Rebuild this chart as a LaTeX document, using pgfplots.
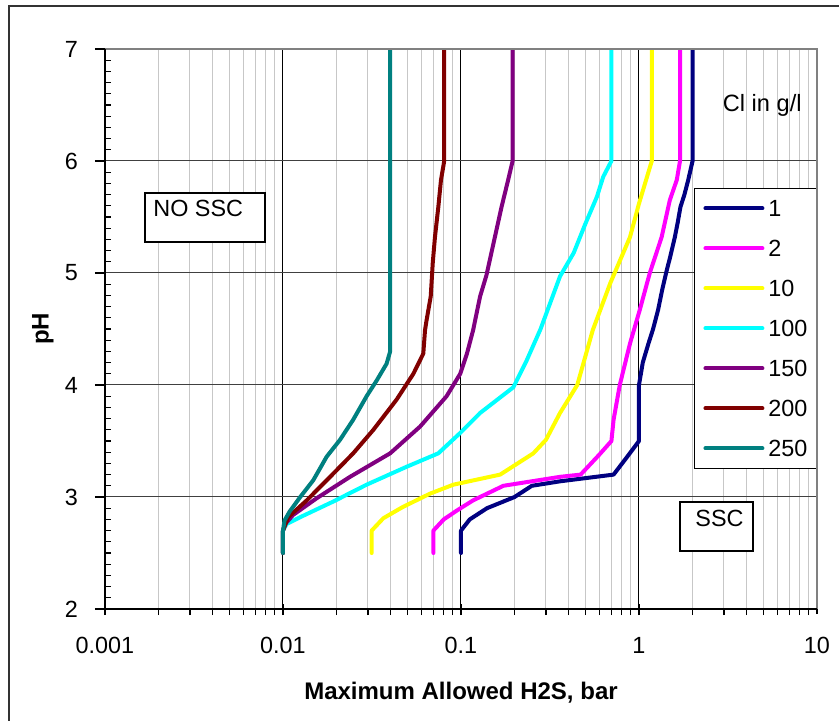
\documentclass[border=0pt]{standalone}
\usepackage{fontspec}
\setmainfont{Liberation Sans}
\usepackage{pgfplots}
\pgfplotsset{compat=1.18}
\definecolor{cNavy}{RGB}{0,0,128}
\definecolor{cMag}{RGB}{255,0,255}
\definecolor{cYel}{RGB}{255,255,0}
\definecolor{cCyan}{RGB}{0,255,255}
\definecolor{cPur}{RGB}{128,0,128}
\definecolor{cDred}{RGB}{128,0,0}
\definecolor{cTeal}{RGB}{0,128,128}
\begin{document}
\begin{tikzpicture}
\path[use as bounding box] (-52.5pt,-56pt) rectangle (367pt,304.5pt);
\draw[black!80, line width=0.6pt] (-48pt,-60pt) -- (-48pt,301.5pt) -- (370pt,301.5pt);
\begin{axis}[
  scale only axis, width=356pt, height=280pt,
  xmode=log, xmin=0.001, xmax=10, ymin=2, ymax=7,
  xtick={0.001,0.01,0.1,1,10}, xticklabels={0.001,0.01,0.1,1,10},
  ytick={2,3,4,5,6,7}, yticklabels={2,3,4,5,6,7},
  minor y tick num=9,
  xmajorgrids, ymajorgrids, xminorgrids,
  major x grid style={black, line width=0.5pt},
  major y grid style={black!75, line width=0.5pt},
  minor x grid style={black!22, line width=0.5pt},
  axis line style={draw=none},
  tick align=inside,
  xtick pos=left, ytick pos=left,
  major tick length=5pt, minor tick length=3pt,
  every tick/.style={black, line width=0.6pt},
  major x tick style={yshift=-2.5pt},
  minor x tick style={yshift=-3pt},
  major y tick style={xshift=-5pt},
  tick label style={font=\fontsize{11.7}{13}\selectfont},
  xticklabel style={anchor=base, yshift=-22pt},
  yticklabel style={anchor=east, xshift=-10pt},
  xlabel={\bfseries Maximum Allowed H2S, bar},
  xlabel style={at={(rel axis cs:0.5,0)}, anchor=base, yshift=-45pt, font=\fontsize{12}{14}\selectfont},
  ylabel={\bfseries pH},
  ylabel style={at={(rel axis cs:-0.0871,0.5)}, anchor=center, font=\fontsize{12}{14}\selectfont},
  legend image code/.code={\draw[#1] (0pt,0pt) -- (28.5pt,0pt);},
  legend cell align=left,
  legend style={at={(1,0.752)}, anchor=north east, draw=black, line width=0.5pt, fill=white,
    font=\fontsize{11.7}{13}\selectfont, row sep=11.6pt, column sep=2pt,
    inner xsep=4.5pt, inner ysep=5.8pt,
    nodes={inner sep=0pt, text height=8.4pt, text depth=0pt}},
  every axis plot/.append style={line width=2pt, line join=round, line cap=round},
]
\addplot[cNavy] coordinates {
(0.1,2.5)(0.1,2.7)(0.112,2.8)(0.14,2.9)(0.2,3.0)(0.25,3.1)(0.36,3.14)(0.72,3.2)(0.85,3.35)(1.0,3.5)
(1.0,4.0)(1.05,4.2)(1.13,4.37)(1.2,4.5)(1.28,4.67)(1.35,4.85)(1.42,5.0)(1.5,5.15)(1.59,5.32)
(1.65,5.45)(1.71,5.59)(1.8,5.7)(1.89,5.83)(2.0,6.0)(2.0,7.0)};
\addlegendentry{1}
\addplot[cMag] coordinates {
(0.07,2.5)(0.07,2.7)(0.08,2.8)(0.095,2.88)(0.117,2.97)(0.173,3.1)(0.36,3.18)(0.47,3.2)(0.6,3.38)
(0.7,3.5)(0.72,3.69)(0.78,4.0)(0.89,4.37)(1.01,4.67)(1.15,5.0)(1.34,5.32)(1.49,5.65)(1.63,5.83)
(1.70,6.0)(1.70,7.0)};
\addlegendentry{2}
\addplot[cYel] coordinates {
(0.0315,2.5)(0.0315,2.7)(0.0366,2.81)(0.047,2.91)(0.067,3.03)(0.0906,3.11)(0.166,3.2)(0.255,3.39)
(0.30,3.51)(0.36,3.75)(0.45,4.0)(0.55,4.49)(0.69,4.91)(0.89,5.32)(1.0,5.62)(1.18,6.0)(1.18,7.0)};
\addlegendentry{10}
\addplot[cCyan] coordinates {
(0.01,2.5)(0.01,2.7)(0.0105,2.76)(0.0125,2.82)(0.0192,2.96)(0.0295,3.11)(0.0495,3.27)(0.0746,3.39)
(0.0987,3.57)(0.128,3.75)(0.197,3.98)(0.234,4.22)(0.28,4.5)(0.36,4.97)(0.43,5.18)(0.50,5.44)
(0.58,5.68)(0.63,5.86)(0.70,6.0)(0.70,7.0)};
\addlegendentry{100}
\addplot[cPur] coordinates {
(0.01,2.5)(0.01,2.7)(0.0103,2.76)(0.0114,2.84)(0.0155,2.99)(0.0238,3.18)(0.040,3.39)(0.059,3.63)
(0.083,3.90)(0.099,4.10)(0.108,4.28)(0.117,4.49)(0.128,4.79)(0.139,4.98)(0.155,5.32)(0.169,5.59)
(0.184,5.83)(0.195,6.0)(0.195,7.0)};
\addlegendentry{150}
\addplot[cDred] coordinates {
(0.01,2.5)(0.01,2.7)(0.0107,2.82)(0.0136,2.97)(0.0184,3.18)(0.0248,3.39)(0.0322,3.60)(0.0435,3.87)
(0.054,4.10)(0.0614,4.28)(0.0628,4.49)(0.0641,4.58)(0.0676,4.79)(0.0694,5.09)(0.0714,5.32)
(0.0746,5.59)(0.0772,5.83)(0.0805,6.0)(0.0805,7.0)};
\addlegendentry{200}
\addplot[cTeal] coordinates {
(0.01,2.5)(0.01,2.7)(0.0102,2.79)(0.0109,2.87)(0.0125,3.0)(0.0148,3.15)(0.0176,3.36)(0.0209,3.51)
(0.0248,3.69)(0.0295,3.90)(0.0336,4.04)(0.0382,4.19)(0.040,4.3)(0.040,7.0)};
\addlegendentry{250}
\end{axis}
% axis frame: left/bottom black, top/right gray
\draw[black!50, line width=0.75pt] (0pt,280pt) -- (356pt,280pt) -- (356pt,0pt);
\draw[black, line width=1pt] (0pt,280pt) -- (0pt,0pt) -- (356pt,0pt);
% annotations
\node[anchor=base east, font=\fontsize{11.8}{14}\selectfont, inner sep=0pt] at (348.5pt,248.5pt) {Cl in g/l};
\draw[black, line width=0.8pt, fill=white] (20pt,183.5pt) rectangle (80pt,208pt);
\node[anchor=base west, font=\fontsize{11.7}{14}\selectfont, inner sep=0pt] at (24pt,196pt) {NO SSC};
\draw[black, line width=0.8pt, fill=white] (287.5pt,29pt) rectangle (324pt,53.5pt);
\node[anchor=base west, font=\fontsize{11.7}{14}\selectfont, inner sep=0pt] at (295pt,41pt) {SSC};
\end{tikzpicture}
\end{document}
